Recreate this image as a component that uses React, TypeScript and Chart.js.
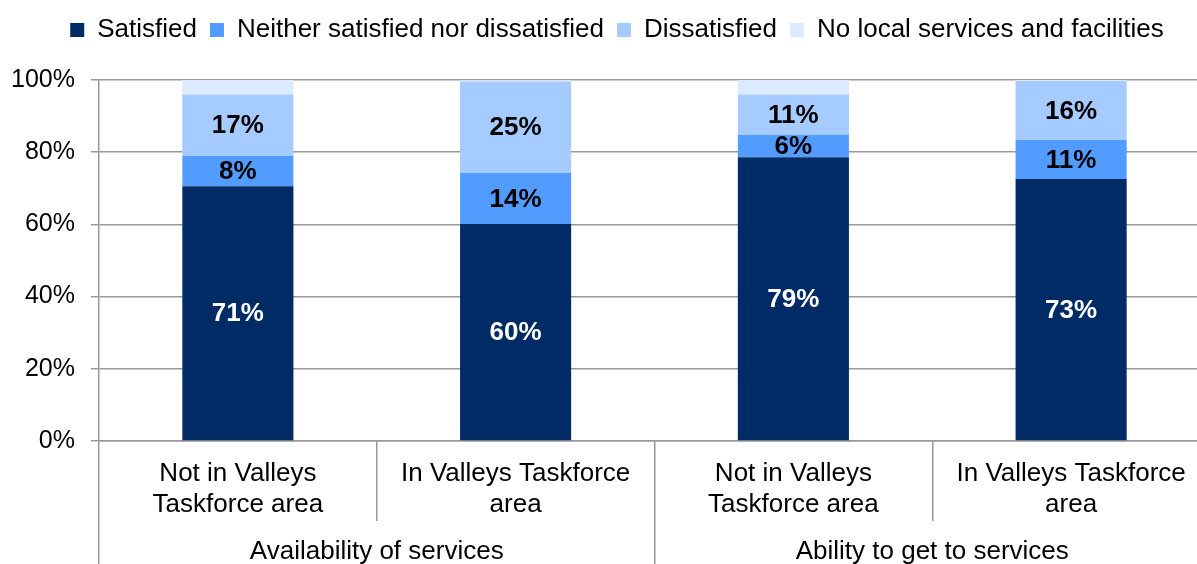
import React, { useEffect, useRef } from "react";
import { Chart, registerables } from "chart.js";

Chart.register(...registerables);

const categories: string[][] = [
  ["Not in Valleys", "Taskforce area"],
  ["In Valleys Taskforce", "area"],
  ["Not in Valleys", "Taskforce area"],
  ["In Valleys Taskforce", "area"],
];
const groups = ["Availability of services", "Ability to get to services"];
const seriesNames = [
  "Satisfied",
  "Neither satisfied nor dissatisfied",
  "Dissatisfied",
  "No local services and facilities",
];
const satisfied = [70.6, 60.1, 78.6, 72.6];
const neither = [8.4, 14.2, 6.2, 10.8];
const dissatisfied = [17.0, 25.3, 11.2, 16.3];
const noLocal = [4.0, 0.3, 4.0, 0.3];
const yTicks = [0, 20, 40, 60, 80, 100];

const FONT = "'Liberation Sans', Arial, sans-serif";
const GRID = "#999999";
const colors = ["#002B64", "#529CFF", "#A5CBFF", "#DCEBFF"];

export default function App() {
  const ref = useRef<HTMLCanvasElement | null>(null);
  useEffect(() => {
    if (!ref.current) return;
    const labelPlugin = {
      id: "segLabels",
      afterDatasetsDraw(chart: any) {
        const ctx = chart.ctx;
        ctx.save();
        ctx.font = `bold 26px ${FONT}`;
        ctx.textAlign = "center";
        ctx.textBaseline = "middle";
        chart.data.datasets.forEach((ds: any, i: number) => {
          if (i === 3) return;
          const meta = chart.getDatasetMeta(i);
          meta.data.forEach((el: any, j: number) => {
            const v = ds.data[j];
            const p = el.getProps(["x", "y", "base"], true);
            ctx.fillStyle = i === 0 ? "#ffffff" : "#000000";
            ctx.fillText(Math.round(v) + "%", p.x, (p.y + p.base) / 2 + 1);
          });
        });
        ctx.restore();
      },
    };
    const legendShift = {
      id: "legendShift",
      afterLayout(chart: any) {
        const lg = chart.legend;
        if (!lg) return;
        const dx = 12;
        const dy = -27;
        lg.left += dx;
        lg.right += dx;
        lg.top += dy;
        lg.bottom += dy;
      },
    };
    const chart = new Chart(ref.current, {
      type: "bar",
      data: {
        labels: categories as any,
        datasets: [satisfied, neither, dissatisfied, noLocal].map((d, i) => ({
          label: seriesNames[i],
          data: d,
          backgroundColor: colors[i],
          borderWidth: 0,
          barPercentage: 0.4,
          categoryPercentage: 1,
        })),
      },
      options: {
        responsive: false,
        animation: false,
        layout: { padding: { top: 31, left: 0, right: 0, bottom: 0 } },
        plugins: {
          tooltip: { enabled: false },
          legend: {
            position: "top",
            labels: {
              boxWidth: 14,
              boxHeight: 14,
              padding: 13,
              color: "#000",
              font: { size: 26, family: FONT },
            },
          },
        },
        scales: {
          x: {
            stacked: true,
            offset: true,
            afterFit(scale: any) {
              scale.height = 80;
            },
            grid: {
              offset: true,
              drawOnChartArea: false,
              drawTicks: true,
              tickLength: 80,
              color: GRID,
              lineWidth: 1.5,
            },
            border: { display: true, color: GRID, width: 1.5 },
            ticks: {
              color: "#000",
              padding: -62.6,
              maxRotation: 0,
              autoSkip: false,
              font: { size: 26, family: FONT, lineHeight: 1.2 },
            },
          },
          x2: {
            type: "category",
            labels: groups,
            position: "bottom",
            offset: true,
            afterFit(scale: any) {
              scale.height = 49;
            },
            grid: {
              offset: true,
              drawOnChartArea: false,
              drawTicks: true,
              tickLength: 60,
              color: GRID,
              lineWidth: 1.5,
            },
            border: { display: false },
            ticks: {
              color: "#000",
              padding: -44.6,
              maxRotation: 0,
              autoSkip: false,
              font: { size: 26, family: FONT, lineHeight: 1.2 },
            },
          },
          y: {
            stacked: true,
            min: 0,
            max: 100,
            afterFit(scale: any) {
              scale.width = 99;
            },
            afterBuildTicks(scale: any) {
              scale.ticks = yTicks.map((v) => ({ value: v }));
            },
            grid: {
              color: GRID,
              lineWidth: 1.5,
              drawTicks: true,
              tickLength: 8,
            },
            border: { display: true, color: GRID, width: 1.5 },
            ticks: {
              color: "#000",
              padding: 16,
              font: { size: 25, family: FONT },
              callback: (v: any) => v + "%",
            },
          },
        },
      } as any,
      plugins: [labelPlugin, legendShift],
    });
    return () => chart.destroy();
  }, []);
  return (
    <div
      style={{
        position: "fixed",
        left: 0,
        top: 0,
        width: 1197,
        height: 564,
        overflow: "hidden",
        background: "#fff",
      }}
    >
      <canvas ref={ref} width={1210} height={570} style={{ display: "block" }} />
    </div>
  );
}
